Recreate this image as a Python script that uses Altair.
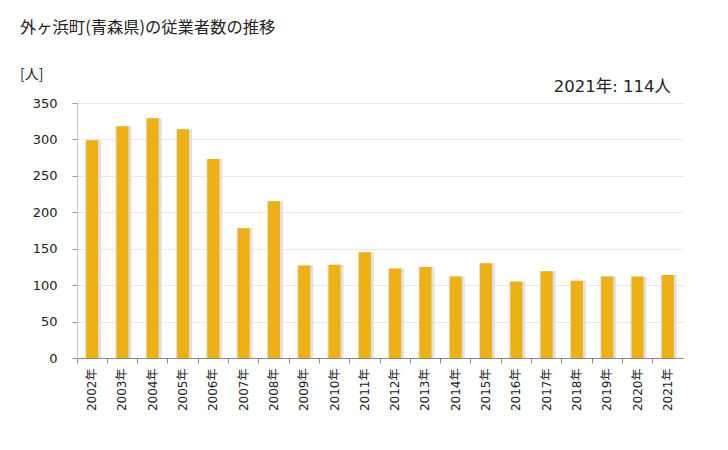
import altair as alt
import pandas as pd

years = [f"{y}年" for y in range(2002, 2022)]
values = [299, 318, 329, 314, 273, 178, 215, 127, 128, 145, 123, 125, 112, 130, 105, 119, 106, 112, 112, 114]

title_text = "外ヶ浜町(青森県)の従業者数の推移"
unit_text = "[人]"
latest_text = "2021年: 114人"

df = pd.DataFrame({"year": years, "value": values})
FONT = "DejaVu Sans, Noto Sans CJK JP"

x = alt.X("year:N", sort=None, title=None,
          axis=alt.Axis(labelAngle=-90, labelFontSize=12, labelColor="#222", labelFont=FONT,
                        labelAlign="right", labelBaseline="middle", labelPadding=5,
                        domainColor="#888", tickColor="#888", tickSize=5, bandPosition=0,
                        grid=False),
          scale=alt.Scale(paddingInner=0, paddingOuter=0))
y = alt.Y("value:Q", title=None,
          scale=alt.Scale(domain=[0, 350], nice=False),
          axis=alt.Axis(values=list(range(0, 351, 50)), labelFontSize=13, labelColor="#222",
                        labelFont=FONT, labelPadding=15, domainColor="#c8c8c8",
                        tickColor="#999", tickSize=5, gridColor="#e8e8e8"))

base = alt.Chart(df)
shadow = base.mark_bar(size=16, color="#d9d9d9", opacity=0.8, xOffset=1).encode(x=x, y=y)
bars = base.mark_bar(size=12, color="#EDB015").encode(x=x, y=y)

t1 = alt.Chart(pd.DataFrame({"t": [title_text]})).mark_text(
    align="left", baseline="middle", fontSize=16.3, font="Noto Sans CJK JP", color="#222"
).encode(text="t:N", x=alt.value(-57), y=alt.value(-75))
t2 = alt.Chart(pd.DataFrame({"t": [unit_text]})).mark_text(
    align="left", baseline="middle", fontSize=14, font="Noto Sans CJK JP", color="#222"
).encode(text="t:N", x=alt.value(-57), y=alt.value(-28))
t3 = alt.Chart(pd.DataFrame({"t": [latest_text]})).mark_text(
    align="right", baseline="middle", fontSize=16.5, font=FONT, color="#222"
).encode(text="t:N", x=alt.value(594), y=alt.value(-16))

chart = alt.layer(shadow, bars, t1, t2, t3).properties(
    width=606, height=255,
    autosize=alt.AutoSizeParams(type="none"),
    padding={"left": 69, "top": 95, "right": 25, "bottom": 70},
).configure_view(stroke=None).configure_axis(gridWidth=1)

chart.save("out.html", embed_options={"renderer": "svg", "actions": False})
